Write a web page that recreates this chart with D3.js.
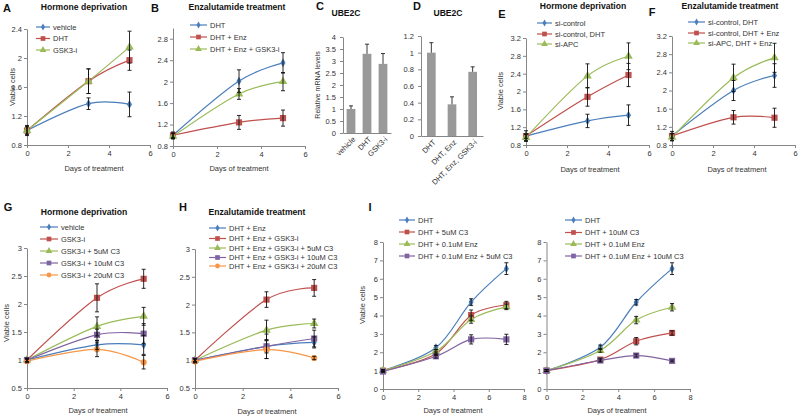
<!DOCTYPE html>
<html><head><meta charset="utf-8">
<script src="https://cdn.jsdelivr.net/npm/d3@7"></script>
<style>
body{margin:0;background:#fff;}
svg{display:block;font-family:"Liberation Sans",Arial,sans-serif;}
</style></head><body>
<svg id="c" width="798" height="416"></svg>
<script>
// ---------------- DATA ----------------
const days = [0, 3, 5];
const daysI = [0, 3, 5, 7];
const dayTicks = [0, 2, 4, 6];
const dayTicksI = [0, 2, 4, 6, 8];

// A
const aNames = ["vehicle", "DHT", "GSK3-i"];
const aVehicle = [1.0, 1.37, 1.36], aVehicleErr = [0.07, 0.08, 0.17];
const aDHT = [1.0, 1.68, 1.97], aDHTErr = [0.06, 0.17, 0.14];
const aGSK = [1.0, 1.68, 2.15], aGSKErr = [0.05, 0.17, 0.22];
const aTicks = [0.8, 1.2, 1.6, 2, 2.4];

// B
const bNames = ["DHT", "DHT + Enz", "DHT + Enz + GSK3-i"];
const bDHT = [1.0, 2.01, 2.35], bDHTErr = [0.06, 0.21, 0.19];
const bEnz = [1.0, 1.24, 1.32], bEnzErr = [0.04, 0.13, 0.15];
const bGSK = [0.98, 1.77, 2.0], bGSKErr = [0.05, 0.1, 0.17];
const bTicks = [0.8, 1.2, 1.6, 2, 2.4, 2.8];

// C
const cCats = ["vehicle", "DHT", "GSK3-i"];
const cVals = [1.0, 3.3, 2.88], cErr = [0.13, 0.4, 0.43];
const cTicks = [0, 0.5, 1, 1.5, 2, 2.5, 3, 3.5, 4];

// D
const dCats = ["DHT", "DHT, Enz", "DHT, Enz, GSK3-i"];
const dVals = [1.0, 0.38, 0.77], dErr = [0.12, 0.09, 0.06];
const dTicks = [0, 0.2, 0.4, 0.6, 0.8, 1, 1.2];

// E
const eNames = ["si-control", "si-control, DHT", "si-APC"];
const eCtrl = [1.0, 1.34, 1.47], eCtrlErr = [0.12, 0.15, 0.23];
const eCtrlDHT = [1.0, 1.88, 2.37], eCtrlDHTErr = [0.05, 0.21, 0.26];
const eAPC = [0.97, 2.35, 2.79], eAPCErr = [0.07, 0.27, 0.3];
const efTicks = [0.8, 1.2, 1.6, 2, 2.4, 2.8, 3.2];

// F
const fNames = ["si-control, DHT", "si-control, DHT + Enz", "si-APC, DHT + Enz"];
const fCtrlDHT = [1.0, 2.0, 2.33], fCtrlDHTErr = [0.1, 0.22, 0.26];
const fCtrlEnz = [1.0, 1.41, 1.4], fCtrlEnzErr = [0.05, 0.15, 0.21];
const fAPC = [0.97, 2.28, 2.72], fAPCErr = [0.08, 0.3, 0.32];

// G
const gNames = ["vehicle", "GSK3-i", "GSK3-i + 5uM C3", "GSK3-i + 10uM C3", "GSK3-i + 20uM C3"];
const gVehicle = [1.0, 1.27, 1.27], gVehicleErr = [0.03, 0.08, 0.17];
const gGSK = [1.0, 2.11, 2.45], gGSKErr = [0.03, 0.25, 0.17];
const g5 = [1.0, 1.6, 1.78], g5Err = [0.03, 0.17, 0.16];
const g10 = [1.0, 1.45, 1.47], g10Err = [0.03, 0.1, 0.18];
const g20 = [0.98, 1.19, 0.96], g20Err = [0.03, 0.13, 0.12];
const ghTicks = [0.5, 1, 1.5, 2, 2.5, 3];

// H
const hNames = ["DHT + Enz", "DHT + Enz + GSK3-i", "DHT + Enz + GSK3-i + 5uM C3", "DHT + Enz + GSK3-i + 10uM C3", "DHT + Enz + GSK3-i + 20uM C3"];
const hEnz = [1.0, 1.25, 1.32], hEnzErr = [0.03, 0.22, 0.1];
const hGSK = [1.0, 2.09, 2.3], hGSKErr = [0.03, 0.14, 0.15];
const h5 = [1.0, 1.54, 1.66], h5Err = [0.03, 0.18, 0.08];
const h10 = [1.0, 1.25, 1.39], h10Err = [0.03, 0.12, 0.15];
const h20 = [0.98, 1.19, 1.04], h20Err = [0.03, 0.16, 0.03];

// I (left)
const iNames = ["DHT", "DHT + 5uM C3", "DHT + 0.1uM Enz", "DHT + 0.1uM Enz + 5uM C3"];
const iDHT = [1.0, 2.25, 4.73, 6.55], iDHTErr = [0.05, 0.12, 0.18, 0.32];
const iC3 = [1.0, 1.92, 4.02, 4.57], iC3Err = [0.05, 0.1, 0.28, 0.2];
const iEnz = [1.0, 2.05, 3.78, 4.47], iEnzErr = [0.05, 0.1, 0.2, 0.15];
const iEnzC3 = [0.95, 1.78, 2.7, 2.7], iEnzC3Err = [0.05, 0.1, 0.25, 0.28];
const iTicks = [0, 1, 2, 3, 4, 5, 6, 7, 8];

// I (right)
const jNames = ["DHT", "DHT + 10uM C3", "DHT + 0.1uM Enz", "DHT + 0.1uM Enz + 10uM C3"];
const jDHT = [1.0, 2.27, 4.72, 6.55], jDHTErr = [0.05, 0.12, 0.15, 0.32];
const jC3 = [1.0, 1.6, 2.6, 3.05], jC3Err = [0.05, 0.08, 0.2, 0.12];
const jEnz = [1.0, 2.1, 3.75, 4.45], jEnzErr = [0.05, 0.1, 0.2, 0.2];
const jEnzC3 = [1.0, 1.55, 1.82, 1.53], jEnzC3Err = [0.05, 0.08, 0.08, 0.05];

// ---------------- STYLE ----------------
const STYLES = [
  {color: "#4A7EBB", sym: d3.symbolDiamond, size: 22, lsize: 14},
  {color: "#C0504D", sym: d3.symbolSquare, size: 38, lsize: 22},
  {color: "#9BBB59", sym: d3.symbolTriangle, size: 32, lsize: 20},
  {color: "#8064A2", sym: d3.symbolSquare, size: 38, lsize: 22},
  {color: "#F79646", sym: d3.symbolCircle, size: 30, lsize: 18}
];
const AXIS = "#868686", TXT = "#333", FS = 7.5;

const svg = d3.select("#c");
const fmt = d => String(+(+d).toFixed(2));

function styleAxis(g) {
  g.select(".domain").attr("stroke", AXIS).attr("stroke-width", 1);
  g.selectAll(".tick line").attr("stroke", AXIS);
  g.selectAll(".tick text").attr("fill", TXT).attr("font-size", FS).attr("font-family", "Liberation Sans, Arial, sans-serif");
}
function text(x, y, s, opts = {}) {
  const t = svg.append("text").attr("x", x).attr("y", y).attr("dy", "0.35em")
    .attr("text-anchor", opts.anchor || "middle").attr("fill", opts.fill || TXT)
    .attr("font-size", opts.size || FS).attr("font-weight", opts.bold ? "bold" : "normal").text(s);
  if (opts.rot) t.attr("transform", `rotate(${opts.rot},${x},${y})`);
  return t;
}

function linePanel(p) {
  const x = d3.scaleLinear().domain(p.xDomain).range(p.xRange);
  const y = d3.scaleLinear().domain(p.yDomain).range(p.yRange);
  const g = svg.append("g");
  g.append("g").attr("transform", `translate(${p.xRange[0]},0)`)
    .call(d3.axisLeft(y).tickValues(p.yTicks).tickSize(3).tickSizeOuter(0).tickPadding(2).tickFormat(fmt)).call(styleAxis);
  g.append("g").attr("transform", `translate(0,${p.yRange[0]})`)
    .call(d3.axisBottom(x).tickValues(p.xTicks).tickSize(3).tickSizeOuter(0).tickPadding(3).tickFormat(fmt)).call(styleAxis);
  const line = d3.line().x(d => x(d.d)).y(d => y(d.v)).curve(d3.curveCardinal);
  const rows = p.series.map(s => p.days.map((d, i) => ({d, v: s.values[i], e: s.errs[i]})));
  rows.forEach((pts, k) => {
    g.append("path").datum(pts).attr("d", line).attr("fill", "none")
      .attr("stroke", STYLES[k].color).attr("stroke-width", 1.2);
  });
  rows.forEach((pts, k) => {
    g.selectAll(null).data(pts).join("path")
      .attr("transform", d => `translate(${x(d.d)},${y(d.v)})`)
      .attr("d", d3.symbol().type(STYLES[k].sym).size(STYLES[k].size))
      .attr("fill", STYLES[k].color);
  });
  rows.forEach(pts => {
    const eb = g.selectAll(null).data(pts).join("g").attr("stroke", "#111").attr("stroke-width", 0.9);
    eb.append("line").attr("x1", d => x(d.d)).attr("x2", d => x(d.d)).attr("y1", d => y(d.v - d.e)).attr("y2", d => y(d.v + d.e));
    eb.append("line").attr("x1", d => x(d.d) - 2).attr("x2", d => x(d.d) + 2).attr("y1", d => y(d.v + d.e)).attr("y2", d => y(d.v + d.e));
    eb.append("line").attr("x1", d => x(d.d) - 2).attr("x2", d => x(d.d) + 2).attr("y1", d => y(d.v - d.e)).attr("y2", d => y(d.v - d.e));
  });
  // legend
  const L = p.legend;
  p.series.forEach((s, k) => {
    const yy = L.ys[k];
    g.append("line").attr("x1", L.x1).attr("x2", L.x2).attr("y1", yy).attr("y2", yy)
      .attr("stroke", STYLES[k].color).attr("stroke-width", 1.2);
    g.append("path").attr("transform", `translate(${(L.x1 + L.x2) / 2},${yy})`)
      .attr("d", d3.symbol().type(STYLES[k].sym).size(STYLES[k].lsize)).attr("fill", STYLES[k].color);
    text(L.tx, yy, s.name, {anchor: "start"});
  });
  if (p.yLabel) text(p.yLabel.x, p.yLabel.y, "Viable cells", {rot: -90});
  text(p.xTitle.x, p.xTitle.y, "Days of treatment");
  if (p.title) text(p.title.x, p.title.y, p.title.text, {bold: true, size: 8.6, fill: "#111"});
  if (p.letter) text(p.letter.x, p.letter.y, p.letter.text, {bold: true, size: 11, fill: "#111"});
}

function barPanel(p) {
  const x = d3.scaleBand().domain(p.cats).range(p.xRange).paddingInner(p.pad).paddingOuter(p.pad / 2);
  const y = d3.scaleLinear().domain(p.yDomain).range(p.yRange);
  const g = svg.append("g");
  g.selectAll(null).data(p.cats).join("rect")
    .attr("x", d => x(d)).attr("width", x.bandwidth())
    .attr("y", (d, i) => y(p.vals[i])).attr("height", (d, i) => y(0) - y(p.vals[i]))
    .attr("fill", "#999999");
  const eb = g.selectAll(null).data(p.cats).join("g").attr("stroke", "#222").attr("stroke-width", 0.9);
  const cx = d => x(d) + x.bandwidth() / 2;
  eb.append("line").attr("x1", cx).attr("x2", cx).attr("y1", (d, i) => y(p.vals[i])).attr("y2", (d, i) => y(p.vals[i] + p.errs[i]));
  eb.append("line").attr("x1", d => cx(d) - 2).attr("x2", d => cx(d) + 2).attr("y1", (d, i) => y(p.vals[i] + p.errs[i])).attr("y2", (d, i) => y(p.vals[i] + p.errs[i]));
  g.append("g").attr("transform", `translate(${p.xRange[0]},0)`)
    .call(d3.axisLeft(y).tickValues(p.yTicks).tickSize(3).tickSizeOuter(0).tickPadding(4).tickFormat(fmt)).call(styleAxis);
  const xa = g.append("g").attr("transform", `translate(0,${p.yRange[0]})`)
    .call(d3.axisBottom(x).tickSize(0).tickSizeOuter(0).tickFormat(() => "")).call(styleAxis);
  p.cats.forEach(c => {
    const tx = cx(c) + 3, ty = p.yRange[0] + 5;
    svg.append("text").attr("x", tx).attr("y", ty).attr("dy", "0.35em").attr("text-anchor", "end")
      .attr("font-size", FS).attr("fill", TXT).attr("transform", `rotate(-45,${tx},${ty})`).text(c);
  });
  if (p.yLabel) text(p.yLabel.x, p.yLabel.y, p.yLabel.text, {rot: -90, size: 7});
  text(p.title.x, p.title.y, p.title.text, {bold: true, size: 8.6, fill: "#111"});
  text(p.letter.x, p.letter.y, p.letter.text, {bold: true, size: 11, fill: "#111"});
}

// ---------------- PANELS ----------------
linePanel({
  xDomain: [0, 6], xRange: [27, 150], yDomain: [0.8, 2.4], yRange: [145, 29], yTicks: aTicks, xTicks: dayTicks, days,
  series: [{name: aNames[0], values: aVehicle, errs: aVehicleErr}, {name: aNames[1], values: aDHT, errs: aDHTErr}, {name: aNames[2], values: aGSK, errs: aGSKErr}],
  legend: {x1: 36, x2: 50, tx: 53, ys: [27, 38.5, 50]},
  yLabel: {x: 12, y: 87}, xTitle: {x: 94, y: 168},
  title: {text: "Hormone deprivation", x: 84, y: 7}, letter: {text: "A", x: 7, y: 8}
});
linePanel({
  xDomain: [0, 6], xRange: [173, 305], yDomain: [0.8, 3.0], yRange: [146, 28], yTicks: bTicks, xTicks: dayTicks, days,
  series: [{name: bNames[0], values: bDHT, errs: bDHTErr}, {name: bNames[1], values: bEnz, errs: bEnzErr}, {name: bNames[2], values: bGSK, errs: bGSKErr}],
  legend: {x1: 190, x2: 207, tx: 210, ys: [25, 37, 49]},
  xTitle: {x: 239, y: 168},
  title: {text: "Enzalutamide treatment", x: 237, y: 7}, letter: {text: "B", x: 155, y: 8}
});
barPanel({
  cats: cCats, vals: cVals, errs: cErr, xRange: [343, 391], pad: 0.45, yDomain: [0, 4], yRange: [133, 37], yTicks: cTicks,
  yLabel: {x: 318, y: 85, text: "Relative mRNA levels"},
  title: {text: "UBE2C", x: 346, y: 13}, letter: {text: "C", x: 320, y: 6}
});
barPanel({
  cats: dCats, vals: dVals, errs: dErr, xRange: [421, 483], pad: 0.58, yDomain: [0, 1.2], yRange: [136, 36], yTicks: dTicks,
  title: {text: "UBE2C", x: 448, y: 13}, letter: {text: "D", x: 417, y: 6}
});
linePanel({
  xDomain: [0, 6], xRange: [526, 649], yDomain: [0.8, 3.2], yRange: [145, 38], yTicks: efTicks, xTicks: dayTicks, days,
  series: [{name: eNames[0], values: eCtrl, errs: eCtrlErr}, {name: eNames[1], values: eCtrlDHT, errs: eCtrlDHTErr}, {name: eNames[2], values: eAPC, errs: eAPCErr}],
  legend: {x1: 537, x2: 552, tx: 555, ys: [23, 34, 44]},
  yLabel: {x: 500, y: 91}, xTitle: {x: 590, y: 169},
  title: {text: "Hormone deprivation", x: 583, y: 6}, letter: {text: "E", x: 502, y: 14}
});
linePanel({
  xDomain: [0, 6], xRange: [672, 795], yDomain: [0.8, 3.2], yRange: [145, 36], yTicks: efTicks, xTicks: dayTicks, days,
  series: [{name: fNames[0], values: fCtrlDHT, errs: fCtrlDHTErr}, {name: fNames[1], values: fCtrlEnz, errs: fCtrlEnzErr}, {name: fNames[2], values: fAPC, errs: fAPCErr}],
  legend: {x1: 688, x2: 705, tx: 708, ys: [22, 33, 43]},
  xTitle: {x: 737, y: 169},
  title: {text: "Enzalutamide treatment", x: 730, y: 6}, letter: {text: "F", x: 652, y: 12}
});
linePanel({
  xDomain: [0, 6], xRange: [27, 167], yDomain: [0.5, 3], yRange: [388, 248], yTicks: ghTicks, xTicks: dayTicks, days,
  series: [{name: gNames[0], values: gVehicle, errs: gVehicleErr}, {name: gNames[1], values: gGSK, errs: gGSKErr}, {name: gNames[2], values: g5, errs: g5Err}, {name: gNames[3], values: g10, errs: g10Err}, {name: gNames[4], values: g20, errs: g20Err}],
  legend: {x1: 40, x2: 58, tx: 61, ys: [227, 239, 251, 263, 275]},
  yLabel: {x: 6, y: 323}, xTitle: {x: 98, y: 410},
  title: {text: "Hormone deprivation", x: 84, y: 212}, letter: {text: "G", x: 8, y: 207}
});
linePanel({
  xDomain: [0, 6], xRange: [195, 338], yDomain: [0.5, 3], yRange: [388, 249], yTicks: ghTicks, xTicks: dayTicks, days,
  series: [{name: hNames[0], values: hEnz, errs: hEnzErr}, {name: hNames[1], values: hGSK, errs: hGSKErr}, {name: hNames[2], values: h5, errs: h5Err}, {name: hNames[3], values: h10, errs: h10Err}, {name: hNames[4], values: h20, errs: h20Err}],
  legend: {x1: 209, x2: 226, tx: 229, ys: [228, 238.5, 248, 257.5, 266]},
  xTitle: {x: 267, y: 411},
  title: {text: "Enzalutamide treatment", x: 257, y: 212}, letter: {text: "H", x: 183, y: 207}
});
linePanel({
  xDomain: [0, 8], xRange: [383, 524], yDomain: [0, 8], yRange: [389, 242], yTicks: iTicks, xTicks: dayTicksI, days: daysI,
  series: [{name: iNames[0], values: iDHT, errs: iDHTErr}, {name: iNames[1], values: iC3, errs: iC3Err}, {name: iNames[2], values: iEnz, errs: iEnzErr}, {name: iNames[3], values: iEnzC3, errs: iEnzC3Err}],
  legend: {x1: 399, x2: 415, tx: 418, ys: [220, 232, 244, 256]},
  yLabel: {x: 362, y: 305}, xTitle: {x: 453, y: 410},
  letter: {text: "I", x: 370, y: 207}
});
linePanel({
  xDomain: [0, 8], xRange: [546.5, 690], yDomain: [0, 8], yRange: [389, 242], yTicks: iTicks, xTicks: dayTicksI, days: daysI,
  series: [{name: jNames[0], values: jDHT, errs: jDHTErr}, {name: jNames[1], values: jC3, errs: jC3Err}, {name: jNames[2], values: jEnz, errs: jEnzErr}, {name: jNames[3], values: jEnzC3, errs: jEnzC3Err}],
  legend: {x1: 565, x2: 582, tx: 585, ys: [220, 232.5, 244, 256]},
  xTitle: {x: 617, y: 410}
});
</script>
</body></html>
